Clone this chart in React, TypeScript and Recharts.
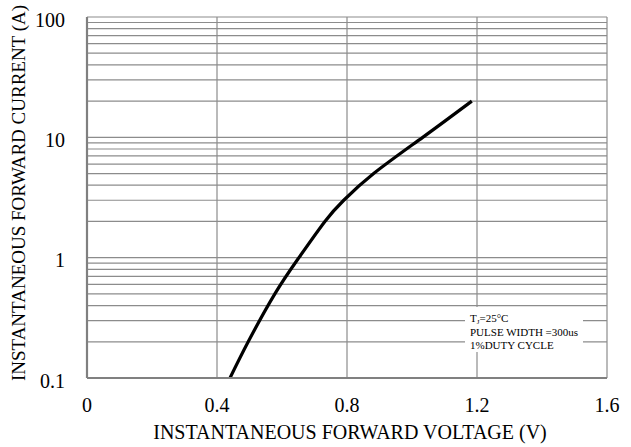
import { LineChart, Line, XAxis, YAxis, ReferenceLine } from 'recharts';

// forward voltage (V) vs instantaneous forward current (A)
const voltage = [0.44, 0.496, 0.578, 0.652, 0.732, 0.79, 0.882, 1.033, 1.184];
const current = [0.1, 0.2, 0.5, 1, 2, 3, 5, 10, 20];

const xTicks = [0, 0.4, 0.8, 1.2, 1.6];
const yTicks = [0.1, 1, 10, 100];
const decades = [0.1, 1, 10];
const steps = [2, 3, 4, 5, 6, 7, 8, 9];
const yMinor = decades.flatMap(d => steps.map(s => +(d * s).toFixed(2)));

const noteLines = ['PULSE WIDTH =300us', '1%DUTY CYCLE'];
const xTitle = 'INSTANTANEOUS FORWARD VOLTAGE (V)';
const yTitle = 'INSTANTANEOUS FORWARD CURRENT (A)';

const data = voltage.map((v, k) => ({ v, i: current[k] }));

const FONT = '"Liberation Serif", "Times New Roman", serif';
const GRID = '#8c8c8c';
const FRAME = '#808080';

const W = 631;
const H = 447;

const XTick = ({ x, y, payload }: any) => (
  <text x={x} y={y + 34} textAnchor="middle" fontSize={20} fontFamily={FONT} fill="#000">
    {payload.value === 0 ? '0' : payload.value.toFixed(1)}
  </text>
);

const YTick = ({ x, y, payload }: any) => (
  <text x={x - 22} y={y + 9.5} textAnchor="end" fontSize={20} fontFamily={FONT} fill="#000">
    {String(payload.value)}
  </text>
);

export default function App() {
  return (
    <div style={{ position: 'relative', width: W, height: H, background: '#fff', overflow: 'hidden' }}>
      <style>{'body{margin:0}'}</style>
      <LineChart width={W} height={H} data={data} margin={{ top: 17, right: 24, bottom: 0, left: 0 }}>
        {yMinor.map(val => (
          <ReferenceLine key={'h' + val} y={val} stroke={GRID} strokeWidth={1.2} ifOverflow="hidden" />
        ))}
        {yTicks.map(val => (
          <ReferenceLine key={'H' + val} y={val} stroke={GRID} strokeWidth={1.2} />
        ))}
        {xTicks.map(val => (
          <ReferenceLine key={'v' + val} x={val} stroke={GRID} strokeWidth={1.2} />
        ))}
        <XAxis
          dataKey="v"
          type="number"
          domain={[0, 1.6]}
          ticks={xTicks}
          tickSize={0}
          tickMargin={0}
          tickLine={false}
          height={69}
          axisLine={{ stroke: FRAME, strokeWidth: 2.2 }}
          tick={<XTick />}
        />
        <XAxis
          xAxisId="top"
          orientation="top"
          type="number"
          domain={[0, 1.6]}
          height={0}
          tick={false}
          tickLine={false}
          axisLine={{ stroke: FRAME, strokeWidth: 2.2 }}
        />
        <YAxis
          type="number"
          scale="log"
          domain={[0.1, 100]}
          allowDataOverflow
          ticks={yTicks}
          width={87}
          tickSize={0}
          tickMargin={0}
          tickLine={false}
          axisLine={{ stroke: FRAME, strokeWidth: 2.2 }}
          tick={<YTick />}
        />
        <YAxis
          yAxisId="right"
          orientation="right"
          type="number"
          scale="log"
          domain={[0.1, 100]}
          allowDataOverflow
          width={0}
          tick={false}
          tickLine={false}
          axisLine={{ stroke: FRAME, strokeWidth: 2.2 }}
        />
        <Line
          dataKey="i"
          type="natural"
          stroke="#000"
          strokeWidth={3.2}
          dot={false}
          isAnimationActive={false}
        />
      </LineChart>

      <svg width={W} height={H} style={{ position: 'absolute', left: 0, top: 0, pointerEvents: 'none' }}>
        {/* test conditions note */}
        <rect x={465} y={307} width={118} height={45} fill="#fff" />
        <text x={470} y={321.5} fontSize={11} fontFamily={FONT} fill="#000">
          T<tspan fontSize={7} dy={2}>J</tspan>
          <tspan dy={-2}>=25°C</tspan>
        </text>
        {noteLines.map((t, k) => (
          <text key={t} x={470} y={335.5 + k * 13} fontSize={11} fontFamily={FONT} fill="#000">
            {t}
          </text>
        ))}
        <text x={350} y={439} textAnchor="middle" fontSize={20} fontFamily={FONT} fill="#000">
          {xTitle}
        </text>
        <text
          x={25}
          y={193}
          textAnchor="middle"
          fontSize={19}
          fontFamily={FONT}
          fill="#000"
          transform="rotate(-90 25 193)"
        >
          {yTitle}
        </text>
      </svg>
    </div>
  );
}
